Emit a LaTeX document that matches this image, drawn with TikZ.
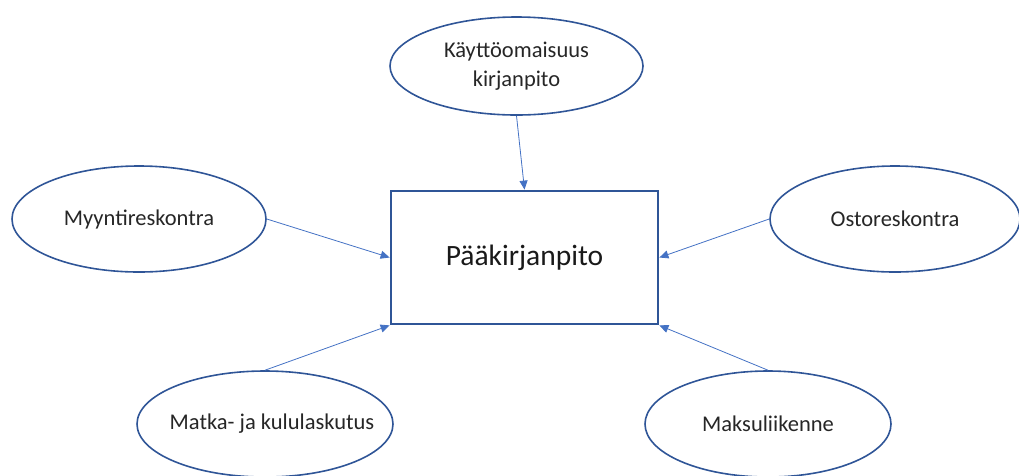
\documentclass[tikz,border=0pt]{standalone}
\usepackage{fontspec}
\setmainfont{Carlito}
\usetikzlibrary{shapes.geometric,arrows.meta}
\definecolor{boxblue}{HTML}{2F5597}
\definecolor{lineblue}{HTML}{4472C4}

\begin{document}
\begin{tikzpicture}[x=1pt,y=-1pt,
  sub/.style={ellipse,draw=boxblue,line width=1.6pt,inner sep=0pt,
    minimum width=254pt,minimum height=106pt,align=center,
    font=\fontsize{22.5}{29}\selectfont,text=black!85},
  main/.style={rectangle,draw=boxblue,line width=2.8pt,
    minimum width=267pt,minimum height=133pt,
    font=\fontsize{29.5}{34}\selectfont,text=black!90},
  link/.style={draw=lineblue,line width=0.8pt,-{Triangle[length=9pt,width=8pt]}}]
  \useasboundingbox (0,0) rectangle (1019,475);
  \node[main] (paa) at (524.5,257.5) {Pääkirjanpito};
  \node[sub,minimum width=253pt,minimum height=98pt] (kaytto) at (516.5,66) {Käyttöomaisuus\\kirjanpito};
  \node[sub] (myynti) at (139,219) {Myyntireskontra};
  \node[sub,minimum width=250pt] (osto) at (895,219) {Ostoreskontra};
  \node[sub,minimum width=256pt,inner xsep=-24pt] (matka) at (265,424) {\hspace{14pt}Matka- ja kululaskutus};
  \node[sub,minimum width=246pt] (maksu) at (768,424) {Maksuliikenne};
  \draw[link] (kaytto.south) -- (paa.north);
  \draw[link] (myynti.east) -- (paa.west);
  \draw[link] (osto.west) -- (paa.east);
  \draw[link] (matka.north) -- (paa.south west);
  \draw[link] (maksu.north) -- (paa.south east);
\end{tikzpicture}
\end{document}
